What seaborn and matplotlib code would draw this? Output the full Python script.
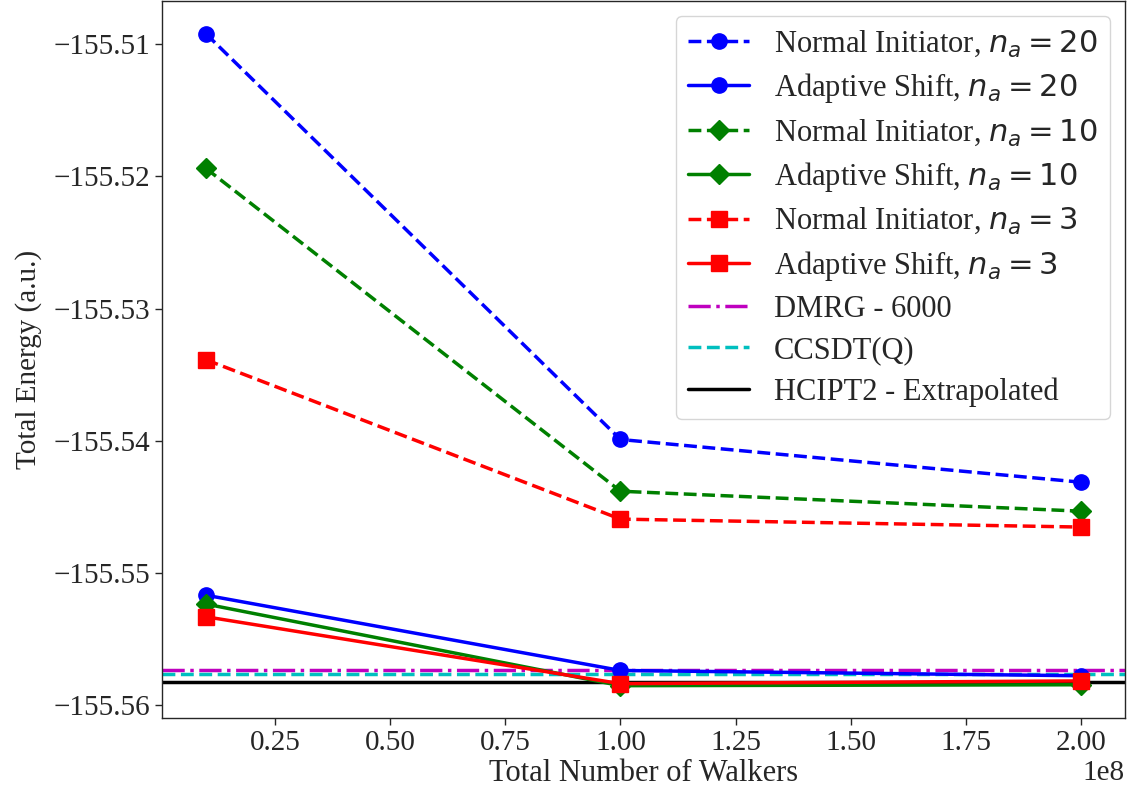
import seaborn as sns
import matplotlib
matplotlib.use('Agg')
import matplotlib.pyplot as plt
import numpy as np

sns.set_style('ticks')
plt.rcParams['font.family'] = ['Liberation Serif', 'DejaVu Serif']
plt.rcParams['mathtext.fontset'] = 'dejavusans'
plt.rcParams['font.size'] = 21
plt.rcParams['axes.linewidth'] = 1.0
plt.rcParams['xtick.direction'] = 'out'
plt.rcParams['ytick.direction'] = 'out'

# total number of walkers
walkers = [1e7, 1e8, 2e8]

# total energies (a.u.)
normal_20 = [-155.50922, -155.53990, -155.54313]
adaptive_20 = [-155.55167, -155.55736, -155.55776]
normal_10 = [-155.51940, -155.54381, -155.54532]
adaptive_10 = [-155.55234, -155.55851, -155.55844]
normal_3 = [-155.53387, -155.54592, -155.54652]
adaptive_3 = [-155.55330, -155.55836, -155.55815]

# reference energies
dmrg_6000 = -155.55730
ccsdt_q = -155.55760
hcipt2_extrap = -155.55823

series = [
    (normal_20, 'Normal Initiator, $n_a = 20$', '#0000ff', '--', 'o'),
    (adaptive_20, 'Adaptive Shift, $n_a = 20$', '#0000ff', '-', 'o'),
    (normal_10, 'Normal Initiator, $n_a = 10$', '#008000', '--', 'D'),
    (adaptive_10, 'Adaptive Shift, $n_a = 10$', '#008000', '-', 'D'),
    (normal_3, 'Normal Initiator, $n_a = 3$', '#ff0000', '--', 's'),
    (adaptive_3, 'Adaptive Shift, $n_a = 3$', '#ff0000', '-', 's'),
]

fig = plt.figure(figsize=(11.3, 7.98), dpi=100)
ax = fig.add_axes([0.1434, 0.0999, 0.8522, 0.8988])

for vals, lab, col, ls, mk in series:
    sns.lineplot(x=walkers, y=vals, color=col, linestyle=ls, marker=mk,
                 markersize=11 if mk != 'D' else 10, lw=2.5,
                 markeredgecolor=col, markeredgewidth=1,
                 label=lab, ax=ax)

ax.axhline(dmrg_6000, color='#bf00bf', linestyle='-.', lw=2.5, label='DMRG - 6000', zorder=1.5)
ax.axhline(ccsdt_q, color='#00bfbf', linestyle='--', lw=2.5, label='CCSDT(Q)', zorder=1.5)
ax.axhline(hcipt2_extrap, color='k', linestyle='-', lw=2.5, label='HCIPT2 - Extrapolated', zorder=1.5)

ax.ticklabel_format(axis='y', useOffset=False, style='plain')
ax.set_yticks([-155.51, -155.52, -155.53, -155.54, -155.55, -155.56])
ax.set_xlabel('Total Number of Walkers', fontsize=22, labelpad=2)
ax.set_ylabel('Total Energy (a.u.)', fontsize=21, labelpad=8)
ax.tick_params(axis='both', which='major', labelsize=21, length=5, width=1)
ax.xaxis.get_offset_text().set_fontsize(21)

ax.legend(loc='upper right', fontsize=22, framealpha=0.8, labelspacing=0.4)

fig.savefig('out.png', dpi=100)
